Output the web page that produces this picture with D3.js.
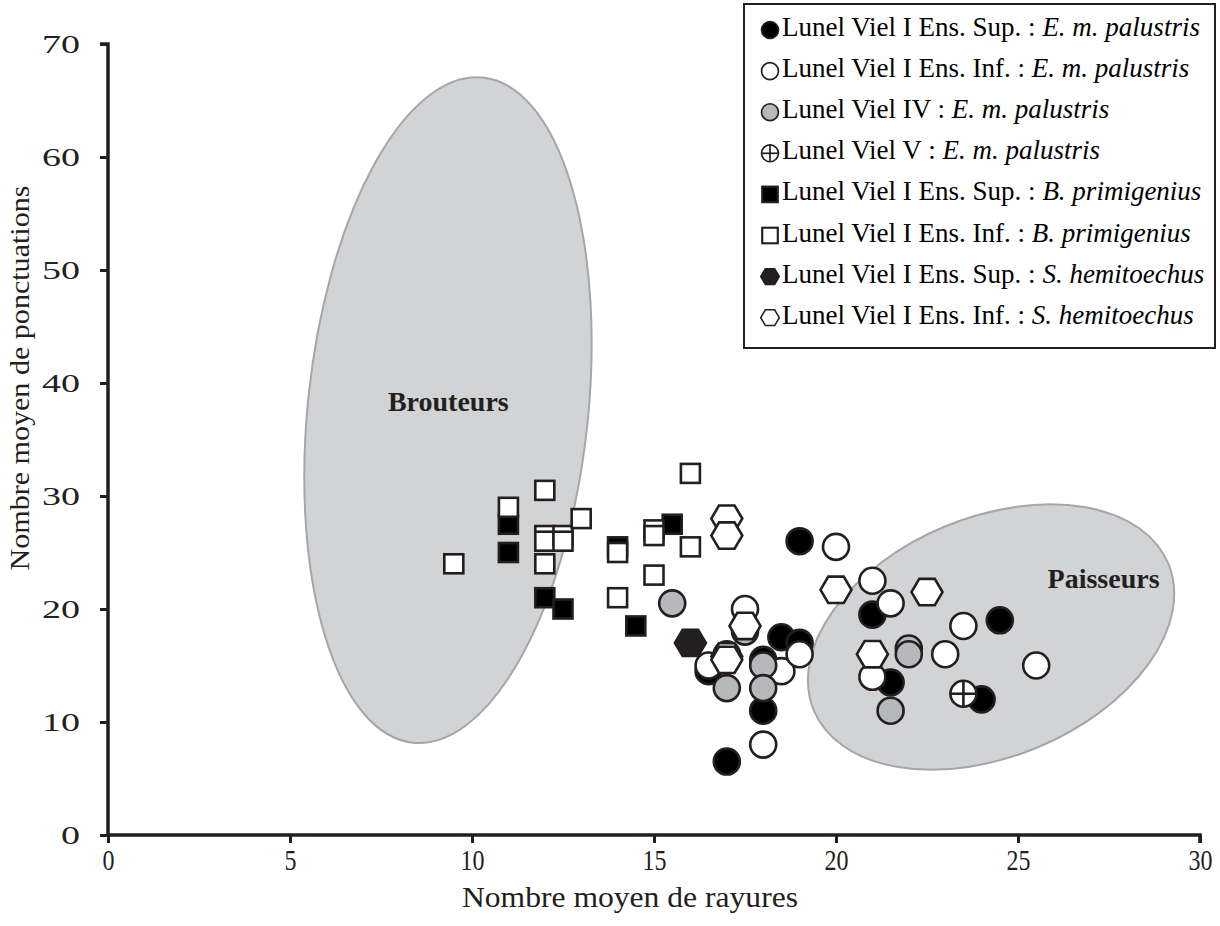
<!DOCTYPE html>
<html><head><meta charset="utf-8">
<script src="https://cdn.jsdelivr.net/npm/d3@7/dist/d3.min.js"></script>
<style>
html,body{margin:0;padding:0;background:#fff;}
svg{display:block;font-family:"Liberation Serif","Times New Roman",serif;}
</style></head>
<body><svg id="chart" width="1220" height="926"></svg>
<script>
// ---- data ----
const xTicks = [0, 5, 10, 15, 20, 25, 30];
const yTicks = [0, 10, 20, 30, 40, 50, 60, 70];
const xTitle = "Nombre moyen de rayures";
const yTitle = "Nombre moyen de ponctuations";

const seriesNames = [
  ["Lunel Viel I Ens. Sup. : ", "E. m. palustris"],
  ["Lunel Viel I Ens. Inf. : ", "E. m. palustris"],
  ["Lunel Viel IV : ", "E. m. palustris"],
  ["Lunel Viel V : ", "E. m. palustris"],
  ["Lunel Viel I Ens. Sup. : ", "B. primigenius"],
  ["Lunel Viel I Ens. Inf. : ", "B. primigenius"],
  ["Lunel Viel I Ens. Sup. : ", "S. hemitoechus"],
  ["Lunel Viel I Ens. Inf. : ", "S. hemitoechus"]
];
const seriesSymbols = ["circleFilled","circleOpen","circleGray","circleCross","squareFilled","squareOpen","hexFilled","hexOpen"];

const emSupX = [17, 16.5, 18, 18, 17, 18.5, 19, 19, 21, 21.5, 24, 24.5];
const emSupY = [16, 14.5, 15.5, 11, 6.5, 17.5, 17, 26, 19.5, 13.5, 12, 19];
const emInfX = [17.5, 16.5, 18, 18.5, 19, 20, 21, 21.5, 21, 23, 23.5, 25.5];
const emInfY = [20, 15, 8, 14.5, 16, 25.5, 22.5, 20.5, 14, 16, 18.5, 15];
const emIVX = [15.5, 17.5, 17, 18, 18, 22, 22, 21.5];
const emIVY = [20.5, 18, 13, 15, 13, 16.5, 16, 11];
const emVX = [23.5];
const emVY = [12.5];
const bpSupX = [11, 11, 12, 12.5, 14, 15.5, 14.5];
const bpSupY = [27.5, 25, 21, 20, 25.5, 27.5, 18.5];
const bpInfX = [9.5, 11, 12, 12, 12, 12, 12.5, 12.5, 13, 14, 14, 15, 15, 15, 16, 16];
const bpInfY = [24, 29, 30.5, 26.5, 26, 24, 26.5, 26, 28, 25, 21, 27, 26.5, 23, 32, 25.5];
const shSupX = [16];
const shSupY = [17];
const shInfX = [17, 17, 17.5, 17, 17, 20, 22.5, 21];
const shInfY = [28, 26.5, 18.5, 15.8, 15.5, 21.7, 21.5, 16];

const seriesX = [emSupX, emInfX, emIVX, emVX, bpSupX, bpInfX, shSupX, shInfX];
const seriesY = [emSupY, emInfY, emIVY, emVY, bpSupY, bpInfY, shSupY, shInfY];

// annotation zones (data units)
const zoneLabels = ["Brouteurs", "Paisseurs"];
const zoneCx = [9.34, 24.26];
const zoneCy = [37.6, 17.52];
const zoneHalfX = [3.85, 5.27];
const zoneHalfY = [29.6, 10.6];
const zoneAngle = [6, -22.4];
const zoneLabelX = [9.35, 27.35];
const zoneLabelY = [38.1, 22.4];

// ---- drawing ----
const svg = d3.select("#chart");
const x = d3.scaleLinear().domain([0, 30]).range([108, 1200]);
const y = d3.scaleLinear().domain([0, 70]).range([835, 44]);

const INK = "#231f20";
const GRAY = "#b6b8bb";
const ZONE_FILL = "#d1d3d4";
const ZONE_STROKE = "#a4a6a9";

// zones
zoneLabels.forEach((lab, i) => {
  const cx = x(zoneCx[i]), cy = y(zoneCy[i]);
  const rx = x(zoneCx[i] + zoneHalfX[i]) - cx;
  const ry = cy - y(zoneCy[i] + zoneHalfY[i]);
  svg.append("ellipse")
    .attr("cx", cx).attr("cy", cy).attr("rx", rx).attr("ry", ry)
    .attr("transform", `rotate(${zoneAngle[i]},${cx},${cy})`)
    .attr("fill", ZONE_FILL).attr("stroke", ZONE_STROKE).attr("stroke-width", 2);
  svg.append("text")
    .attr("x", x(zoneLabelX[i])).attr("y", y(zoneLabelY[i]))
    .attr("text-anchor", "middle").attr("dominant-baseline", "middle")
    .attr("font-weight", "bold").attr("font-size", 28)
    .attr("fill", INK).text(lab);
});

// axes
const yAxis = d3.axisLeft(y).tickValues(yTicks).tickSize(8).tickPadding(20);
const xAxis = d3.axisBottom(x).tickValues(xTicks).tickSize(8).tickPadding(6);
const gy = svg.append("g").attr("transform", `translate(${x(0)},0)`).call(yAxis);
const gx = svg.append("g").attr("transform", `translate(0,${y(0)})`).call(xAxis);
[gx, gy].forEach(g => {
  g.select(".domain").attr("stroke", INK).attr("stroke-width", 3.5);
  g.selectAll(".tick line").attr("stroke", INK).attr("stroke-width", 3);
  g.selectAll(".tick text").attr("fill", INK).attr("font-family", "Liberation Serif, serif");
});
gy.select(".domain").attr("d", `M-8,${y(70)}H0V${y(0)}`);
gx.select(".domain").attr("d", `M${x(0)},0H${x(30)}V8`);
gy.selectAll(".tick text").attr("font-size", 26)
  .attr("textLength", d => String(d).length * 19).attr("lengthAdjust", "spacingAndGlyphs");
gx.selectAll(".tick text").attr("font-size", 30)
  .attr("textLength", d => String(d).length * 12).attr("lengthAdjust", "spacingAndGlyphs");

svg.append("text").attr("x", 630).attr("y", 900)
  .attr("text-anchor", "middle").attr("dominant-baseline", "middle")
  .attr("font-size", 29).attr("fill", INK)
  .attr("textLength", 336).attr("lengthAdjust", "spacingAndGlyphs")
  .text(xTitle);
svg.append("text")
  .attr("transform", `translate(23,${378}) rotate(-90)`)
  .attr("text-anchor", "middle").attr("dominant-baseline", "middle")
  .attr("font-size", 27).attr("fill", INK)
  .attr("textLength", 385).attr("lengthAdjust", "spacingAndGlyphs")
  .text(yTitle);

// marker drawing
function hexPoints(R) {
  const h = R * Math.sqrt(3) / 2 * 0.98;
  return [[-R,0],[-R/2,-h],[R/2,-h],[R,0],[R/2,h],[-R/2,h]].map(p => p.join(",")).join(" ");
}
function drawMarker(g, type, s) {
  const sw = 2.6 * s;
  if (type.startsWith("circle")) {
    const r = 13 * s;
    const fill = type === "circleFilled" ? "#000" : type === "circleGray" ? GRAY : "#fff";
    g.append("circle").attr("r", r).attr("fill", fill).attr("stroke", INK).attr("stroke-width", sw);
    if (type === "circleCross") {
      g.append("line").attr("x1", -r).attr("x2", r).attr("y1", 0).attr("y2", 0).attr("stroke", INK).attr("stroke-width", sw);
      g.append("line").attr("y1", -r).attr("y2", r).attr("x1", 0).attr("x2", 0).attr("stroke", INK).attr("stroke-width", sw);
    }
  } else if (type.startsWith("square")) {
    const a = 19 * s;
    g.append("rect").attr("x", -a/2).attr("y", -a/2).attr("width", a).attr("height", a)
      .attr("fill", type === "squareFilled" ? "#000" : "#fff")
      .attr("stroke", INK).attr("stroke-width", sw);
  } else {
    g.append("polygon").attr("points", hexPoints(15.5 * s))
      .attr("fill", type === "hexFilled" ? INK : "#fff")
      .attr("stroke", INK).attr("stroke-width", sw);
  }
}

// points
seriesX.forEach((xs, si) => {
  const pts = xs.map((v, k) => [v, seriesY[si][k]]);
  const gs = svg.append("g").attr("class", "series-" + si);
  pts.forEach(p => {
    const g = gs.append("g").attr("transform", `translate(${x(p[0])},${y(p[1])})`);
    drawMarker(g, seriesSymbols[si], 1);
  });
});

// legend
const lg = svg.append("g");
lg.append("rect").attr("x", 744).attr("y", 4).attr("width", 471).attr("height", 344)
  .attr("fill", "#fff").attr("stroke", INK).attr("stroke-width", 2);
seriesNames.forEach((nm, i) => {
  const cy = 30 + i * 41.1;
  const mg = lg.append("g").attr("transform", `translate(770,${cy})`);
  const t = seriesSymbols[i];
  drawMarker(mg, t, t.startsWith("hex") ? 0.6 : t.startsWith("square") ? 0.82 : 0.65);
  const tx = lg.append("text").attr("x", 782).attr("y", cy).attr("dominant-baseline", "middle")
    .attr("font-size", 27).attr("fill", "#000");
  tx.append("tspan").text(nm[0]);
  tx.append("tspan").attr("font-style", "italic").text(nm[1]);
});
</script></body></html>
